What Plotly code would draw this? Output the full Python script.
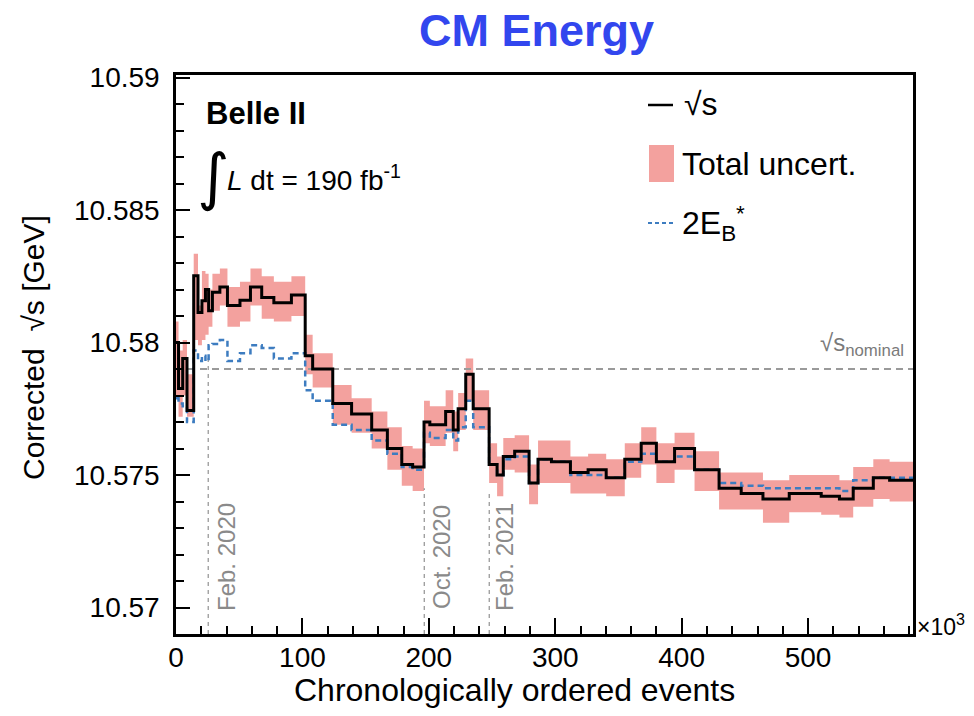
import plotly.graph_objects as go

# ---- data (x in units of 10^3 events) ----
edges = [0, 2, 5.3, 8.7, 14, 17.4, 20.5, 23.3, 25.8, 28.8, 34.7, 40.7, 50.6, 58.9, 67.8,
         77.4, 91.3, 102.2, 108.1, 124, 138.9, 154.8, 167.2, 178.6, 187.2, 196.2, 200.8,
         213.3, 219.3, 223.2, 229.2, 235.1, 247.7, 254, 258.9, 267.9, 279.3, 286.4, 297,
         312, 326, 340.3, 355, 368, 380, 394.4, 410.2, 429.6, 447.1, 464.3, 485.1, 510.4,
         524.8, 535.7, 551.6, 564.5, 583]
sqrt_s = [10.5800, 10.57827, 10.5794, 10.57744, 10.58252, 10.58114, 10.58158, 10.5820,
          10.5812, 10.5819, 10.5821, 10.5814, 10.5816, 10.5821, 10.5817, 10.5815, 10.5818,
          10.5795, 10.5790, 10.5777, 10.5773, 10.5767, 10.5760, 10.5754, 10.5753, 10.5770,
          10.5769, 10.5774, 10.5767, 10.5775, 10.5788, 10.5775, 10.5754, 10.5750, 10.5757,
          10.5759, 10.5747, 10.5756, 10.5755, 10.5751, 10.5752, 10.5749, 10.5756, 10.5762,
          10.5755, 10.5760, 10.5752, 10.5745, 10.5743, 10.5741, 10.5743, 10.5742, 10.5741,
          10.5745, 10.5749, 10.5748]
unc_lo = [10.5779, 10.5772, 10.5780, 10.5772, 10.5801, 10.5799, 10.5801, 10.5803,
          10.5806, 10.5812, 10.5814, 10.5806, 10.5808, 10.5814, 10.5809, 10.5808, 10.5810,
          10.5788, 10.5783, 10.5769, 10.5766, 10.5760, 10.5752, 10.5746, 10.5744, 10.5762,
          10.5761, 10.5766, 10.5759, 10.5767, 10.5778, 10.5767, 10.5747, 10.5742, 10.5752,
          10.5751, 10.5739, 10.5747, 10.5747, 10.5743, 10.5743, 10.5742, 10.5749, 10.5754,
          10.5747, 10.5752, 10.5744, 10.5737, 10.5737, 10.5732, 10.5736, 10.5735, 10.5734,
          10.5738, 10.5741, 10.5740]
unc_hi = [10.5808, 10.5797, 10.5801, 10.5788, 10.58335, 10.5814, 10.5827, 10.5826,
          10.5820, 10.5826, 10.5828, 10.5821, 10.5823, 10.5828, 10.5825, 10.5823, 10.5825,
          10.5803, 10.5796, 10.5784, 10.5779, 10.5774, 10.5768, 10.5761, 10.5760, 10.5778,
          10.5776, 10.5782, 10.5774, 10.5781, 10.5794, 10.5782, 10.5762, 10.5757, 10.5764,
          10.5765, 10.5754, 10.5763, 10.5763, 10.5757, 10.5758, 10.5756, 10.5762, 10.5768,
          10.5762, 10.5766, 10.5759, 10.5751, 10.5751, 10.5748, 10.5750, 10.5750, 10.5748,
          10.5753, 10.5756, 10.5755]
two_eb = [10.5779, 10.5777, 10.5776, 10.5770, 10.5797, 10.5793, 10.5795, 10.5793,
          10.5799, 10.57995, 10.5801, 10.5793, 10.5796, 10.5799, 10.5798, 10.5794, 10.5796,
          10.5782, 10.5778, 10.5769, 10.5767, 10.5763, 10.5758, 10.5753, 10.5752, 10.5766,
          10.5764, 10.5767, 10.5763, 10.5768, 10.5778, 10.5768, 10.5754, 10.5750, 10.5756,
          10.5757, 10.5747, 10.5756, 10.5755, 10.5750, 10.5750, 10.5749, 10.5755, 10.5758,
          10.5755, 10.5757, 10.5752, 10.5747, 10.5746, 10.5745, 10.5745, 10.5745, 10.5744,
          10.5748, 10.5749, 10.5749]
nominal = 10.579
date_x = [25.5, 196.4, 247.8]
date_top = [10.5795, 10.5745, 10.5744]
date_labels = ["Feb. 2020", "Oct. 2020", "Feb. 2021"]
xtick_vals = [0, 100, 200, 300, 400, 500]
xtick_text = ["0", "100", "200", "300", "400", "500"]
ytick_vals = [10.57, 10.575, 10.58, 10.585, 10.59]
ytick_text = ["10.57", "10.575", "10.58", "10.585", "10.59"]

X_RANGE = [0, 583]
Y_RANGE = [10.569, 10.5901]
FONT = "Liberation Sans, Arial, Helvetica, sans-serif"
PINK = "#f3a19e"
BLUE = "#3d7cc0"
GRAY = "#9a9a9a"


def step(vals):
    return list(vals) + [vals[-1]]


fig = go.Figure()

# uncertainty band (between lower and upper step curves)
fig.add_trace(go.Scatter(x=edges, y=step(unc_lo), mode="lines", line=dict(width=0, shape="hv"),
                         hoverinfo="skip", showlegend=False))
fig.add_trace(go.Scatter(x=edges, y=step(unc_hi), mode="lines", line=dict(width=0, shape="hv"),
                         fill="tonexty", fillcolor=PINK, showlegend=False, name="Total uncert."))

# nominal line
fig.add_trace(go.Scatter(x=X_RANGE, y=[nominal, nominal], mode="lines",
                         line=dict(color=GRAY, width=2, dash="7px,5px"), showlegend=False))

# date markers
for dx, dt in zip(date_x, date_top):
    fig.add_trace(go.Scatter(x=[dx, dx], y=[Y_RANGE[0], dt], mode="lines",
                             line=dict(color=GRAY, width=1.3, dash="4px,4px"), showlegend=False))

# 2E_B*
fig.add_trace(go.Scatter(x=edges, y=step(two_eb), mode="lines",
                         line=dict(color=BLUE, width=2.5, dash="6px,4px", shape="hv"),
                         showlegend=False, name="2E_B*"))
# sqrt(s)
fig.add_trace(go.Scatter(x=edges, y=step(sqrt_s), mode="lines",
                         line=dict(color="black", width=3, shape="hv"),
                         showlegend=False, name="sqrt(s)"))

# ---- layout (page has an 8px body margin; positions below are in screen pixels) ----
OFF = 8
SL, SR, ST, SB = 176, 913, 75, 634          # plot area edges on screen
W, H = 974 - OFF, 716 - OFF
PW, PH = SR - SL, SB - ST


def px(x):
    return (x - SL) / PW


def py(y):
    return (SB - y) / PH


ann = []
ann.append(dict(text="<b>CM Energy</b>", x=px(536), y=py(31), xref="paper", yref="paper",
                showarrow=False, xanchor="center", yanchor="middle",
                font=dict(size=45, color="#3246ee", family=FONT)))
ann.append(dict(text="Corrected  √s [GeV]", x=px(33), y=py(348), xref="paper", yref="paper",
                showarrow=False, textangle=-90, xanchor="center", yanchor="middle",
                font=dict(size=30, color="black", family=FONT)))
ann.append(dict(text="Chronologically ordered events", x=px(514), y=py(690), xref="paper",
                yref="paper", showarrow=False, xanchor="center", yanchor="middle",
                font=dict(size=32, color="black", family=FONT)))
ann.append(dict(text="×10<sup>3</sup>", x=px(915), y=py(625), xref="paper", yref="paper",
                showarrow=False, xanchor="left", yanchor="middle",
                font=dict(size=23, color="black", family=FONT)))
ann.append(dict(text="<b>Belle II</b>", x=px(204), y=py(113), xref="paper", yref="paper",
                showarrow=False, xanchor="left", yanchor="middle",
                font=dict(size=31, color="black", family=FONT)))
ann.append(dict(text="∫", x=px(213), y=py(176), xref="paper", yref="paper",
                showarrow=False, xanchor="center", yanchor="middle",
                font=dict(size=62, color="black", family="DejaVu Sans")))
ann.append(dict(text="<i>L</i> dt = 190 fb<sup>-1</sup>", x=px(225), y=py(178), xref="paper",
                yref="paper", showarrow=False, xanchor="left", yanchor="middle",
                font=dict(size=28, color="black", family=FONT)))
ann.append(dict(text="√s<sub>nominal</sub>", x=px(906), y=py(362), xref="paper", yref="paper",
                showarrow=False, xanchor="right", yanchor="bottom",
                font=dict(size=24, color="#7a7a7a", family=FONT)))
for lbl, cx in zip(date_labels, [226, 441, 504]):
    ann.append(dict(text=lbl, x=px(cx), y=py(557), xref="paper", yref="paper",
                    showarrow=False, textangle=-90, xanchor="center", yanchor="middle",
                    font=dict(size=24, color="#8a8a8a", family=FONT)))
# legend (manual)
ann.append(dict(text="√s", x=px(682), y=py(104), xref="paper", yref="paper", showarrow=False,
                xanchor="left", yanchor="middle", font=dict(size=32, color="black", family=FONT)))
ann.append(dict(text="Total uncert.", x=px(680), y=py(164), xref="paper", yref="paper",
                showarrow=False, xanchor="left", yanchor="middle",
                font=dict(size=32, color="black", family=FONT)))
ann.append(dict(text="2E<sub>B</sub><sup>*</sup>", x=px(680), y=py(224), xref="paper",
                yref="paper", showarrow=False, xanchor="left", yanchor="middle",
                font=dict(size=32, color="black", family=FONT)))

shapes = [
    dict(type="line", xref="paper", yref="paper", x0=px(648), x1=px(673), y0=py(105), y1=py(105),
         line=dict(color="black", width=2.5)),
    dict(type="rect", xref="paper", yref="paper", x0=px(649), x1=px(674), y0=py(182), y1=py(145),
         fillcolor=PINK, line=dict(width=0)),
    dict(type="line", xref="paper", yref="paper", x0=px(648), x1=px(673), y0=py(223), y1=py(223),
         line=dict(color=BLUE, width=2, dash="4px,3px")),
]

fig.update_layout(
    width=W, height=H,
    margin=dict(l=SL - OFF, r=W - (SR - OFF), t=ST - OFF, b=H - (SB - OFF), autoexpand=False),
    paper_bgcolor="white", plot_bgcolor="white",
    font=dict(family=FONT, color="black"),
    showlegend=False,
    annotations=ann,
    shapes=shapes,
    xaxis=dict(range=X_RANGE, showgrid=False, zeroline=False, showline=True, linecolor="black",
               linewidth=2.5, mirror=True, ticks="inside", ticklen=16, tickwidth=2,
               tickcolor="black", tickmode="array", tickvals=xtick_vals, ticktext=xtick_text,
               tickfont=dict(size=28, family=FONT, color="black"), ticklabelstandoff=-3,
               minor=dict(ticks="inside", ticklen=8, tickwidth=1.5, tickcolor="black",
                          tickmode="linear", tick0=0, dtick=20, showgrid=False)),
    yaxis=dict(range=Y_RANGE, showgrid=False, zeroline=False, showline=True, linecolor="black",
               linewidth=2.5, mirror=True, ticks="inside", ticklen=14, tickwidth=2,
               tickcolor="black", tickmode="array", tickvals=ytick_vals, ticktext=ytick_text,
               tickfont=dict(size=28, family=FONT, color="black"), ticklabelstandoff=8,
               minor=dict(ticks="inside", ticklen=8, tickwidth=1.5, tickcolor="black",
                          tickmode="linear", tick0=10.57, dtick=0.001, showgrid=False)),
)

fig.write_html("out.html")
